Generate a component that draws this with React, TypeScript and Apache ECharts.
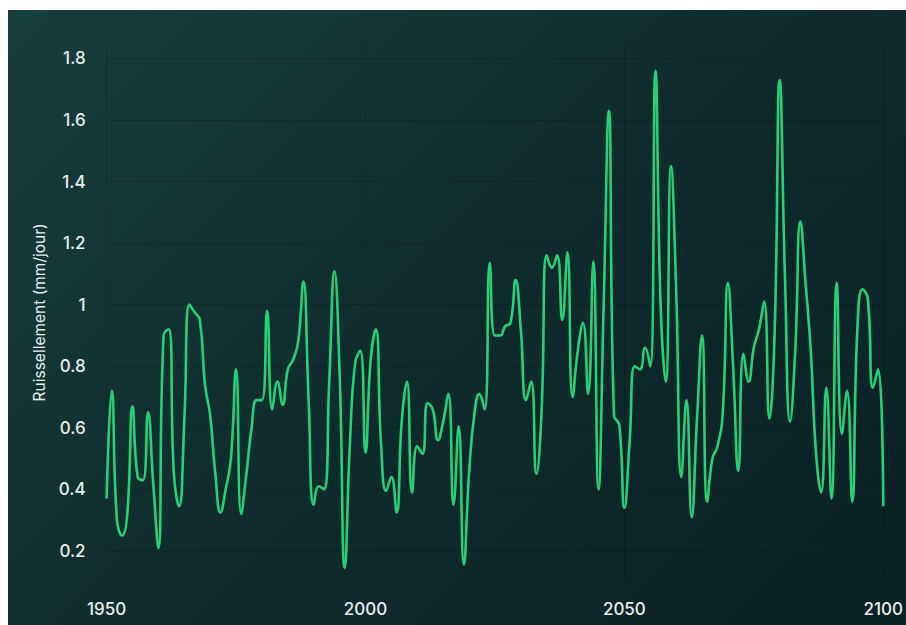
import React, { useEffect, useRef } from "react";
import * as echarts from "echarts";

const startYear = 1950;
const endYear = 2100;
const xTicks = [1950, 2000, 2050, 2100];
const yTicks = [0.2, 0.4, 0.6, 0.8, 1, 1.2, 1.4, 1.6, 1.8];
const yAxisName = "Ruissellement (mm/jour)";

// 1950 - 1999
const runoff1950to1999 = [
  0.37, 0.72, 0.30, 0.25, 0.32, 0.67, 0.44, 0.43, 0.65, 0.42,
  0.21, 0.90, 0.92, 0.45, 0.345, 0.62, 1.00, 0.975, 0.95, 0.74,
  0.64, 0.45, 0.325, 0.40, 0.50, 0.79, 0.32, 0.45, 0.60, 0.69,
  0.69, 0.98, 0.66, 0.75, 0.675, 0.79, 0.82, 0.88, 1.075, 0.70,
  0.35, 0.41, 0.40, 0.75, 1.108, 0.78, 0.145, 0.55, 0.81, 0.85,
];
// 2000 - 2049
const runoff2000to2049 = [
  0.52, 0.82, 0.92, 0.55, 0.395, 0.44, 0.325, 0.62, 0.75, 0.39,
  0.54, 0.515, 0.68, 0.66, 0.56, 0.62, 0.71, 0.35, 0.605, 0.156,
  0.45, 0.64, 0.71, 0.66, 1.135, 0.90, 0.90, 0.93, 0.94, 1.08,
  0.92, 0.69, 0.75, 0.45, 0.65, 1.16, 1.12, 1.16, 0.95, 1.17,
  0.70, 0.85, 0.94, 0.71, 1.14, 0.40, 1.00, 1.63, 0.64, 0.61,
];
// 2050 - 2100
const runoff2050to2100 = [
  0.34, 0.55, 0.80, 0.79, 0.86, 0.80, 1.76, 1.00, 0.75, 1.45,
  1.05, 0.44, 0.69, 0.31, 0.62, 0.90, 0.36, 0.50, 0.54, 0.65,
  1.07, 0.80, 0.46, 0.84, 0.75, 0.86, 0.92, 1.01, 0.63, 0.90,
  1.73, 1.10, 0.62, 0.85, 1.27, 1.07, 0.85, 0.52, 0.39, 0.73,
  0.37, 1.07, 0.58, 0.72, 0.36, 0.92, 1.05, 1.02, 0.73, 0.79,
  0.345,
];

const runoff = [...runoff1950to1999, ...runoff2000to2049, ...runoff2050to2100];
const years: number[] = [];
for (let y = startYear; y <= endYear; y++) years.push(y);

export default function App() {
  const ref = useRef<HTMLDivElement>(null);
  useEffect(() => {
    if (!ref.current) return;
    const chart = echarts.init(ref.current, null, { renderer: "svg" });
    const labelColor = "#e8eeec";
    const font = "Inter, 'Noto Sans', sans-serif";
    chart.setOption({
      animation: false,
      backgroundColor: "transparent",
      grid: { left: 98.6, right: 20.9, top: 33, bottom: 43.3, containLabel: false },
      xAxis: {
        type: "value",
        min: startYear,
        max: endYear,
        interval: 50,
        axisLine: { show: false },
        axisTick: { show: false },
        axisLabel: {
          color: labelColor,
          fontSize: 17,
          fontWeight: 500,
          fontFamily: font,
          margin: 19,
          formatter: (v: number) => (xTicks.includes(v) ? String(v) : ""),
        },
        splitLine: { show: true, lineStyle: { color: "rgba(0,0,0,0.16)", width: 1 } },
      },
      yAxis: {
        type: "value",
        min: 0.1,
        max: 1.85,
        splitNumber: 9,
        name: yAxisName,
        nameLocation: "middle",
        nameGap: 56,
        nameTextStyle: { color: labelColor, fontSize: 15.5, fontFamily: font },
        axisLine: { show: false },
        axisTick: { show: false },
        axisLabel: {
          color: labelColor,
          fontSize: 17,
          fontWeight: 500,
          fontFamily: font,
          margin: 21,
          showMinLabel: false,
          showMaxLabel: false,
          formatter: (v: number) => {
            const r = Math.round(v * 10) / 10;
            return yTicks.some((t) => Math.abs(t - r) < 1e-6) && Math.abs(r - v) < 1e-6 ? String(r) : "";
          },
        },
        splitLine: {
          show: true,
          showMinLine: false,
          showMaxLine: false,
          lineStyle: { color: "rgba(0,0,0,0.16)", width: 1 },
        },
      },
      series: [
        {
          type: "line",
          data: years.map((y, i) => [y, runoff[i]]),
          smooth: 0.5,
          showSymbol: false,
          lineStyle: { color: "#27d077", width: 2.6 },
          itemStyle: { color: "#27d077" },
        },
      ],
    });
    return () => chart.dispose();
  }, []);
  return (
    <div
      style={{
        position: "fixed",
        left: 8,
        top: 10,
        width: 898,
        height: 615,
        background: "linear-gradient(135deg, #153f3b 0%, #0f2c2c 50%, #0b2123 100%)",
      }}
    >
      <div ref={ref} style={{ width: 898, height: 615 }} />
    </div>
  );
}
